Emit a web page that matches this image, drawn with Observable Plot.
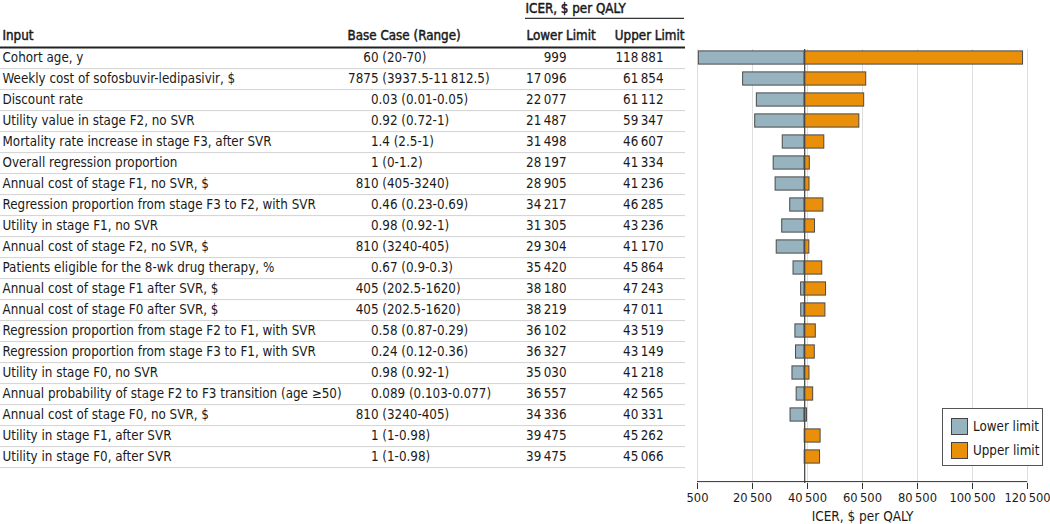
<!DOCTYPE html>
<html>
<head>
<meta charset="utf-8">
<script src="https://cdn.jsdelivr.net/npm/d3@7"></script>
<script src="https://cdn.jsdelivr.net/npm/@observablehq/plot@0.6"></script>
<style>
  html, body { margin: 0; padding: 0; background: #fff; }
  #wrap { position: relative; width: 1050px; height: 524px; font-family: "DejaVu Sans Condensed", "Liberation Sans Narrow", sans-serif; color: #1a1a1a; }
  #legend { position: absolute; left: 942px; top: 408px; width: 99px; height: 56px; border: 1px solid #555; background: #fff; font-size: 13.3px; white-space: nowrap; }
  .sw { position: absolute; left: 8px; width: 15px; height: 15px; border: 1px solid #444; }
  .lt { position: absolute; left: 30px; line-height: 17px; }
</style>
</head>
<body>
<div id="wrap"></div>
<script>
const labels = [
  "Cohort age, y",
  "Weekly cost of sofosbuvir-ledipasivir, $",
  "Discount rate",
  "Utility value in stage F2, no SVR",
  "Mortality rate increase in stage F3, after SVR",
  "Overall regression proportion",
  "Annual cost of stage F1, no SVR, $",
  "Regression proportion from stage F3 to F2, with SVR",
  "Utility in stage F1, no SVR",
  "Annual cost of stage F2, no SVR, $",
  "Patients eligible for the 8-wk drug therapy, %",
  "Annual cost of stage F1 after SVR, $",
  "Annual cost of stage F0 after SVR, $",
  "Regression proportion from stage F2 to F1, with SVR",
  "Regression proportion from stage F3 to F1, with SVR",
  "Utility in stage F0, no SVR",
  "Annual probability of stage F2 to F3 transition (age \u226550)",
  "Annual cost of stage F0, no SVR, $",
  "Utility in stage F1, after SVR",
  "Utility in stage F0, after SVR"
];
const baseCase = [
  "60 (20-70)", "7875 (3937.5-11\u2009812.5)", "0.03 (0.01-0.05)", "0.92 (0.72-1)",
  "1.4 (2.5-1)", "1 (0-1.2)", "810 (405-3240)", "0.46 (0.23-0.69)", "0.98 (0.92-1)",
  "810 (3240-405)", "0.67 (0.9-0.3)", "405 (202.5-1620)", "405 (202.5-1620)",
  "0.58 (0.87-0.29)", "0.24 (0.12-0.36)", "0.98 (0.92-1)", "0.089 (0.103-0.077)",
  "810 (3240-405)", "1 (1-0.98)", "1 (1-0.98)"
];
const lowerLimit = [999, 17096, 22077, 21487, 31498, 28197, 28905, 34217, 31305, 29304,
  35420, 38180, 38219, 36102, 36327, 35030, 36557, 34336, 39475, 39475];
const upperLimit = [118881, 61854, 61112, 59347, 46607, 41334, 41236, 46285, 43236, 41170,
  45864, 47243, 47011, 43519, 43149, 41218, 42565, 40331, 45262, 45066];
const baseICER = 39475;
const xTicks = [500, 20500, 40500, 60500, 80500, 100500, 120500];
const headers = {input: "Input", base: "Base Case (Range)", lower: "Lower Limit", upper: "Upper Limit", group: "ICER, $ per QALY"};
const axisTitle = "ICER, $ per QALY";
const legendLabels = ["Lower limit", "Upper limit"];
const colors = {lower: "#97b3bf", upper: "#e98f0a"};

const grp = d3.format(",");
const fmt = n => n >= 10000 ? grp(n).replace(/,/g, "\u2009") : String(n);

const rows = labels.map((label, i) => {
  const s = baseCase[i];
  const m = s.match(/^(\d+)(.*)$/);
  return {label, intPart: m[1], rest: m[2].replace(/ /g, "\u00a0"), lower: lowerLimit[i], upper: upperLimit[i]};
});

const W = 1050, H = 524, ML = 697, MR = 23, MT = 49, MB = 41;
const F = "DejaVu Sans Condensed, Liberation Sans Narrow, sans-serif";
const fs = 13.3;
const yTop = 45, yBot = 469;
const bw = (yBot - yTop) / labels.length;
const c0 = yTop + bw / 2;               // centre of first row
const cN = yBot - bw / 2;               // centre of last row
const tableRight = 685;
const ink = "#1a1a1a";
const head = {fontWeight: "normal", fill: ink, stroke: ink, strokeWidth: 0.45, frameAnchor: "top-left", lineAnchor: "middle"};

const chart = Plot.plot({
  width: W, height: H,
  marginLeft: ML, marginRight: MR, marginTop: MT, marginBottom: MB,
  style: {fontFamily: F, fontSize: fs + "px", color: ink, background: "#fff", overflow: "visible"},
  x: {domain: [500, 120500], nice: false},
  y: {domain: labels, range: [yTop, yBot], padding: 0, axis: null},
  marks: [
    // grid
    Plot.ruleX(xTicks, {stroke: "#dedede", strokeWidth: 1}),
    // table row separators
    Plot.ruleY(rows, {y: "label", dy: bw / 2, stroke: "#d2d2d2", strokeWidth: 1, insetLeft: -ML, insetRight: W - MR - tableRight}),
    // header thick line
    Plot.ruleY([labels[0]], {y: d => d, dy: -bw / 2, stroke: "#222", strokeWidth: 2, insetLeft: -ML, insetRight: W - MR - tableRight}),
    // ICER group underline
    Plot.ruleY([labels[0]], {y: d => d, dy: 16 - c0, stroke: "#333", strokeWidth: 1.2, insetLeft: -(ML - 525), insetRight: W - MR - 684}),
    // bars
    Plot.barX(rows.filter(d => d.lower < baseICER), {y: "label", x1: "lower", x2: () => baseICER, fill: colors.lower, stroke: "#4a4a4a", strokeWidth: 1, insetTop: 3.9, insetBottom: 3.9}),
    Plot.barX(rows.filter(d => d.upper > baseICER), {y: "label", x1: () => baseICER, x2: "upper", fill: colors.upper, stroke: "#4a4a4a", strokeWidth: 1, insetTop: 3.9, insetBottom: 3.9}),
    // base-case line
    Plot.ruleX([baseICER], {stroke: "#4a4a4a", strokeWidth: 1.3}),
    // x axis line
    Plot.ruleY([labels[labels.length - 1]], {y: d => d, dy: (H - MB) - cN, stroke: "#333", strokeWidth: 1}),
    Plot.axisX({ticks: xTicks, tickFormat: fmt, tickSize: 6, tickPadding: 3, fontSize: 12.8, label: null, stroke: "#333"}),
    Plot.text([axisTitle], {frameAnchor: "bottom", lineAnchor: "middle", dy: 516 - (H - MB), fontSize: 13.5, fill: ink}),
    // table text
    Plot.text(rows, {y: "label", text: "label", frameAnchor: "left", textAnchor: "start", lineAnchor: "middle", dx: 2 - ML, fill: ink}),
    Plot.text(rows, {y: "label", text: "intPart", frameAnchor: "left", textAnchor: "end", lineAnchor: "middle", dx: 378 - ML, fill: ink}),
    Plot.text(rows, {y: "label", text: "rest", frameAnchor: "left", textAnchor: "start", lineAnchor: "middle", dx: 378 - ML, fill: ink}),
    Plot.text(rows, {y: "label", text: d => fmt(d.lower), frameAnchor: "left", textAnchor: "end", lineAnchor: "middle", dx: 566 - ML, fill: ink}),
    Plot.text(rows, {y: "label", text: d => fmt(d.upper), frameAnchor: "left", textAnchor: "end", lineAnchor: "middle", dx: 663 - ML, fill: ink}),
    // headers
    Plot.text([headers.input], {...head, textAnchor: "start", dx: 2 - ML, dy: 35 - MT}),
    Plot.text([headers.base], {...head, textAnchor: "start", dx: 347 - ML, dy: 35 - MT}),
    Plot.text([headers.lower], {...head, textAnchor: "start", dx: 526 - ML, dy: 35 - MT}),
    Plot.text([headers.upper], {...head, textAnchor: "end", dx: 684 - ML, dy: 35 - MT}),
    Plot.text([headers.group], {...head, textAnchor: "start", dx: 525 - ML, dy: 8 - MT})
  ]
});

const wrap = document.getElementById("wrap");
wrap.appendChild(chart);
const lg = document.createElement("div");
lg.id = "legend";
lg.innerHTML = `
  <div class="sw" style="top:9px;background:${colors.lower}"></div><div class="lt" style="top:9px">${legendLabels[0]}</div>
  <div class="sw" style="top:33px;background:${colors.upper}"></div><div class="lt" style="top:33px">${legendLabels[1]}</div>`;
wrap.appendChild(lg);
</script>
</body>
</html>
